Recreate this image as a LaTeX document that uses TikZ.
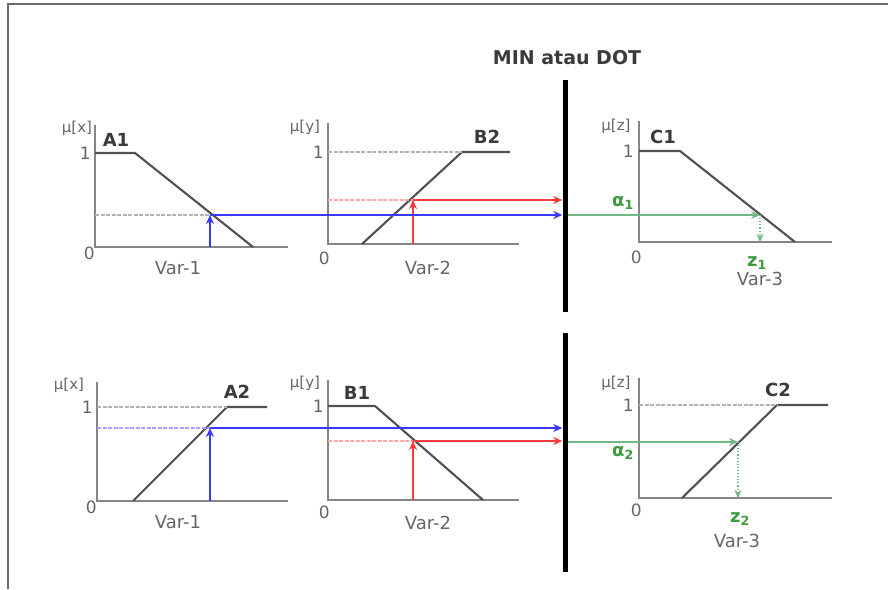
\documentclass[tikz,border=0pt]{standalone}
\usepackage{fontspec}
\setmainfont{DejaVu Sans}
\usetikzlibrary{positioning,arrows.meta,calc}
\definecolor{FzFrame}{HTML}{6A6A6A}
\definecolor{FzAxis}{HTML}{858585}
\definecolor{FzSet}{HTML}{505050}
\definecolor{FzText}{HTML}{666666}
\definecolor{FzName}{HTML}{3A3A3A}
\definecolor{FzBlue}{HTML}{3838FF}
\definecolor{FzRed}{HTML}{FF3A3A}
\definecolor{FzGreen}{HTML}{6FB882}
\definecolor{FzLabel}{HTML}{3F9A3F}
\tikzset{
  fzaxis/.style={draw=FzAxis,line width=2.4pt},
  fzset/.style={draw=FzSet,line width=2.1pt,line join=round},
  fzguide/.style={draw=black!30,line width=1.2pt,dash pattern=on 4pt off 1.5pt},
  fzbguide/.style={fzguide,draw=FzBlue!45},
  fzrguide/.style={fzguide,draw=FzRed!45},
  fzblue/.style={-{Stealth[length=9pt,width=8pt]},draw=FzBlue,line width=1.8pt},
  fzred/.style={-{Stealth[length=9pt,width=8pt]},draw=FzRed,line width=1.8pt},
  fzgreen/.style={-{Stealth[length=9pt,width=8pt]},draw=FzGreen,line width=1.8pt},
  fzdrop/.style={-{Stealth[length=8pt,width=7pt]},draw=FzGreen,line width=1.1pt,dotted},
  fzbar/.style={rectangle,fill=black,inner sep=0pt,minimum width=5pt},
  fzmu/.style={font=\fontsize{15}{15}\selectfont,text=FzText,inner sep=0pt},
  fztick/.style={font=\fontsize{17}{17}\selectfont,text=FzText,inner sep=0pt,anchor=east},
  fzname/.style={font=\fontsize{18}{18}\selectfont\bfseries,text=FzName,inner sep=0pt},
  fzvar/.style={font=\fontsize{18}{18}\selectfont,text=FzText,inner sep=0pt},
  fzgreek/.style={font=\fontsize{18}{18}\selectfont\bfseries,text=FzLabel,inner sep=0pt},
  fztitle/.style={font=\fontsize{19}{19}\selectfont\bfseries,text=FzName,inner sep=0pt},
}

\begin{document}
\begin{tikzpicture}[x=1pt,y=-1pt]
  \useasboundingbox (0,0) rectangle (888,589);
  \draw[draw=FzFrame,line width=2pt] (8,589) -- (8,4) -- (888,4);

  % min / dot bars
  \node[fztitle] (title) at (567,58) {MIN atau DOT};
  \node[fzbar,minimum height=232pt] (bar1) at (565,196) {};
  \node[fzbar,minimum height=239pt] (bar2) at (565,452) {};

  % rule 1: A1, B2 -> C1
  \draw[fzaxis] (95,125) -- (95,247) -- (288,247);
  \draw[fzset] (95,153) -- (135,153) -- (253,247);
  \node[fzname] (nA1) at (116,140) {A1};
  \node[fzmu] (muA1) at (77,128) {μ[x]};
  \node[fztick] (oneA1) at (91,153) {1};
  \node[fztick] (zeroA1) at (95,253) {0};
  \node[fzvar] (varA1) at (178,268) {Var-1};

  \draw[fzaxis] (328,123) -- (328,244) -- (519,244);
  \draw[fzset] (362,244) -- (462,152) -- (510,152);
  \node[fzname] (nB2) at (487,137) {B2};
  \node[fzmu] (muB2) at (305,127) {μ[y]};
  \node[fztick] (oneB2) at (324,152) {1};
  \node[fztick] (zeroB2) at (330,258) {0};
  \node[fzvar] (varB2) at (428,268) {Var-2};

  \draw[fzaxis] (639,121) -- (639,242) -- (832,242);
  \draw[fzset] (639,151) -- (680,151) -- (795,242);
  \node[fzname] (nC1) at (663,137) {C1};
  \node[fzmu] (muC1) at (616,126) {μ[z]};
  \node[fztick] (oneC1) at (634,151) {1};
  \node[fztick] (zeroC1) at (642,257) {0};
  \node[fzvar] (varC1) at (760,279) {Var-3};

  \coordinate (cutA1) at (210,215);
  \coordinate (footA1) at (210,247);
  \coordinate (cutB2) at (413,200);
  \coordinate (footB2) at (413,244);
  \coordinate (cutC1) at (760,215);
  \coordinate (footC1) at (760,242);

  \draw[fzguide] (328,152) -- (462,152);
  \draw[fzguide] (95,215) -- (cutA1);
  \draw[fzrguide] (328,200) -- (cutB2);
  \draw[fzblue] (footA1) -- (cutA1);
  \draw[fzred] (footB2) -- (cutB2);
  \draw[fzblue] (cutA1) -- (cutA1 -| bar1.west);
  \draw[fzred] (cutB2) -- (cutB2 -| bar1.west);
  \draw[fzgreen] (cutA1 -| bar1.east) -- (cutC1);
  \draw[fzdrop] (cutC1) -- (footC1);
  \node[fzgreek] (alpha1) at (623,203) {α\textsubscript{1}};
  \node[fzgreek] (z1) at (757,263) {z\textsubscript{1}};

  % rule 2: A2, B1 -> C2
  \draw[fzaxis] (97,382) -- (97,501) -- (288,501);
  \draw[fzset] (133,501) -- (227,407) -- (267,407);
  \node[fzname] (nA2) at (237,392) {A2};
  \node[fzmu] (muA2) at (69,385) {μ[x]};
  \node[fztick] (oneA2) at (93,407) {1};
  \node[fztick] (zeroA2) at (97,507) {0};
  \node[fzvar] (varA2) at (178,522) {Var-1};

  \draw[fzaxis] (328,380) -- (328,500) -- (519,500);
  \draw[fzset] (328,406) -- (375,406) -- (483,500);
  \node[fzname] (nB1) at (357,393) {B1};
  \node[fzmu] (muB1) at (305,383) {μ[y]};
  \node[fztick] (oneB1) at (324,406) {1};
  \node[fztick] (zeroB1) at (330,512) {0};
  \node[fzvar] (varB1) at (428,523) {Var-2};

  \draw[fzaxis] (639,378) -- (639,498) -- (832,498);
  \draw[fzset] (682,498) -- (777,405) -- (828,405);
  \node[fzname] (nC2) at (778,390) {C2};
  \node[fzmu] (muC2) at (616,383) {μ[z]};
  \node[fztick] (oneC2) at (634,405) {1};
  \node[fztick] (zeroC2) at (642,510) {0};
  \node[fzvar] (varC2) at (737,541) {Var-3};

  \coordinate (cutA2) at (210,428);
  \coordinate (footA2) at (210,501);
  \coordinate (cutB1) at (413,441);
  \coordinate (footB1) at (413,500);
  \coordinate (cutC2) at (738,442);
  \coordinate (footC2) at (738,498);

  \draw[fzguide] (97,407) -- (227,407);
  \draw[fzguide] (639,405) -- (777,405);
  \draw[fzbguide] (97,428) -- (cutA2);
  \draw[fzrguide] (328,441) -- (cutB1);
  \draw[fzblue] (footA2) -- (cutA2);
  \draw[fzred] (footB1) -- (cutB1);
  \draw[fzblue] (cutA2) -- (cutA2 -| bar2.west);
  \draw[fzred] (cutB1) -- (cutB1 -| bar2.west);
  \draw[fzgreen] (cutC2 -| bar2.east) -- (cutC2);
  \draw[fzdrop] (cutC2) -- (footC2);
  \node[fzgreek] (alpha2) at (623,453) {α\textsubscript{2}};
  \node[fzgreek] (z2) at (740,519) {z\textsubscript{2}};
\end{tikzpicture}
\end{document}
